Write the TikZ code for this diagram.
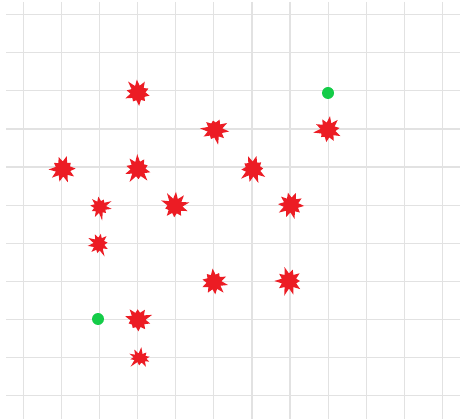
\documentclass[tikz,border=0pt]{standalone}
\usetikzlibrary{shapes.symbols}
\definecolor{gridgray}{HTML}{E2E2E2}
\definecolor{burstred}{HTML}{EC1C24}
\definecolor{dotgreen}{HTML}{14CC48}
\tikzset{
  gridline/.style={draw=gridgray, line width=1.2pt},
  burst/.style={shape=starburst, fill=burstred, draw=none, inner sep=0pt,
    minimum width=31pt, minimum height=31pt, starburst points=10,
    starburst point height=8pt},
  dot/.style={circle, fill=dotgreen, draw=none, inner sep=0pt, minimum size=12pt}
}
\begin{document}
\begin{tikzpicture}[x=1pt,y=-1pt]
\fill[white] (0,0) rectangle (460,419);
\useasboundingbox (0,0) rectangle (460,419);
\foreach \k in {0,...,10} { \draw[gridline] (6,{14.7+38.1*\k}) -- (460,{14.7+38.1*\k}); }
\foreach \k in {0,...,11} { \draw[gridline] ({23.3+38.1*\k},2) -- ({23.3+38.1*\k},419); }
\node[burst, random starburst=11, rotate=5] (s1) at (138,93) {};
\node[burst, random starburst=23, rotate=12] (s2) at (215,130) {};
\node[burst, random starburst=37, rotate=-8] (s3) at (328,130) {};
\node[burst, random starburst=41, rotate=20] (s4) at (63,169) {};
\node[burst, random starburst=53, rotate=3] (s5) at (138,169) {};
\node[burst, random starburst=67, rotate=-15] (s6) at (253,169) {};
\node[burst, random starburst=71, rotate=9, minimum width=28pt, minimum height=28pt] (s7) at (100,207) {};
\node[burst, random starburst=83, rotate=-4] (s8) at (175,206) {};
\node[burst, random starburst=97, rotate=14] (s9) at (291,205) {};
\node[burst, random starburst=101, rotate=-10, minimum width=27pt, minimum height=29pt] (s10) at (99,244) {};
\node[burst, random starburst=113, rotate=6] (s11) at (214,282) {};
\node[burst, random starburst=127, rotate=-18] (s12) at (289,281) {};
\node[burst, random starburst=131, rotate=2] (s13) at (138,320) {};
\node[burst, random starburst=149, rotate=-7, minimum width=29pt, minimum height=25pt] (s14) at (140,358) {};
\node[dot] (g1) at (328,93) {};
\node[dot] (g2) at (98,319) {};
\end{tikzpicture}
\end{document}
